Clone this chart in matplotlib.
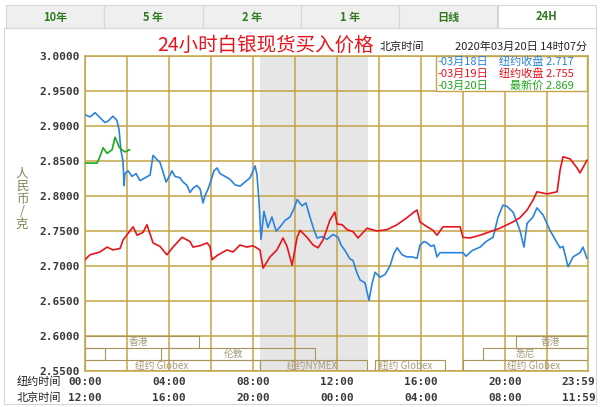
import matplotlib
matplotlib.use("Agg")
import matplotlib.pyplot as plt
from matplotlib.patches import Rectangle
import numpy as np

plt.rcParams['font.family'] = ['Noto Sans CJK SC', 'DejaVu Sans']

###data (hours since 00:00 New York time, price in yuan/gram)
blueHours = [0.00, 0.24, 0.48, 0.71, 0.95, 1.10, 1.33, 1.52, 1.62, 1.71, 1.81, 1.86, 1.90, 2.05, 2.24,
             2.43, 2.62, 2.86, 3.10, 3.24, 3.43, 3.57, 3.71, 3.86, 4.05, 4.14, 4.29, 4.52, 4.67, 4.86,
             5.00, 5.14, 5.33, 5.48, 5.62, 5.71, 5.86, 6.00, 6.14, 6.29, 6.43, 6.67, 6.90, 7.14, 7.38,
             7.62, 7.86, 8.10, 8.19, 8.29, 8.38, 8.52, 8.71, 8.90, 9.10, 9.29, 9.52, 9.76, 9.95, 10.10,
             10.33, 10.52, 10.71, 10.90, 11.05, 11.29, 11.52, 11.81, 12.05, 12.19, 12.38, 12.62, 12.76,
             12.95, 13.10, 13.33, 13.52, 13.67, 13.81, 14.05, 14.29, 14.52, 14.71, 14.86, 15.10, 15.33,
             15.57, 15.81, 15.95, 16.14, 16.29, 16.48, 16.62, 16.76, 16.90, 18.00, 18.14, 18.43, 18.81,
             19.10, 19.43, 19.67, 19.90, 20.10, 20.38, 20.71, 20.90, 21.05, 21.33, 21.52, 21.81, 22.14,
             22.48, 22.62, 22.76, 23.00, 23.24, 23.57, 23.71, 23.90]
blueValues = [2.916, 2.913, 2.919, 2.912, 2.905, 2.907, 2.914, 2.908, 2.895, 2.865, 2.850, 2.815, 2.832,
              2.836, 2.828, 2.832, 2.822, 2.826, 2.830, 2.858, 2.852, 2.848, 2.835, 2.820, 2.830, 2.836,
              2.828, 2.826, 2.820, 2.815, 2.805, 2.811, 2.815, 2.810, 2.790, 2.800, 2.810, 2.822, 2.836,
              2.840, 2.832, 2.828, 2.824, 2.816, 2.814, 2.820, 2.826, 2.843, 2.830, 2.790, 2.738, 2.778,
              2.755, 2.770, 2.750, 2.756, 2.765, 2.770, 2.782, 2.795, 2.786, 2.790, 2.770, 2.752, 2.740,
              2.742, 2.738, 2.745, 2.741, 2.730, 2.722, 2.710, 2.708, 2.690, 2.680, 2.676, 2.651, 2.675,
              2.691, 2.684, 2.688, 2.700, 2.718, 2.726, 2.716, 2.713, 2.713, 2.711, 2.730, 2.735, 2.733,
              2.728, 2.730, 2.713, 2.719, 2.719, 2.714, 2.722, 2.727, 2.735, 2.741, 2.770, 2.787, 2.785,
              2.777, 2.751, 2.727, 2.761, 2.770, 2.783, 2.773, 2.751, 2.733, 2.726, 2.728, 2.699, 2.713,
              2.719, 2.727, 2.711]

redHours = [0.00, 0.24, 0.71, 1.05, 1.33, 1.67, 1.81, 2.29, 2.48, 2.76, 2.95, 3.24, 3.57, 3.90, 4.19,
            4.62, 5.00, 5.14, 5.48, 5.81, 5.95, 6.05, 6.29, 6.76, 7.05, 7.38, 7.71, 8.00, 8.33, 8.48,
            8.81, 9.14, 9.43, 9.62, 9.86, 10.10, 10.24, 10.57, 10.86, 11.10, 11.33, 11.67, 11.90, 12.00,
            12.24, 12.48, 12.76, 13.00, 13.43, 13.90, 14.38, 14.86, 15.33, 15.62, 15.81, 15.95, 16.29,
            16.57, 16.76, 17.05, 17.86, 18.00, 18.33, 18.81, 19.29, 19.76, 20.38, 20.71, 21.05, 21.33,
            21.52, 22.00, 22.48, 22.62, 22.76, 23.10, 23.43, 23.57, 23.90]
redValues = [2.709, 2.716, 2.720, 2.727, 2.723, 2.725, 2.737, 2.756, 2.744, 2.748, 2.759, 2.733, 2.728,
             2.716, 2.727, 2.741, 2.735, 2.727, 2.729, 2.733, 2.728, 2.709, 2.715, 2.723, 2.720, 2.730,
             2.727, 2.729, 2.723, 2.697, 2.713, 2.723, 2.740, 2.728, 2.701, 2.741, 2.751, 2.741, 2.730,
             2.726, 2.737, 2.766, 2.777, 2.760, 2.759, 2.752, 2.749, 2.740, 2.754, 2.750, 2.752, 2.759,
             2.769, 2.776, 2.780, 2.763, 2.756, 2.751, 2.744, 2.756, 2.756, 2.741, 2.740, 2.744, 2.749,
             2.754, 2.763, 2.769, 2.780, 2.794, 2.806, 2.803, 2.806, 2.837, 2.856, 2.853, 2.840, 2.833,
             2.851]

greenHours = [0.00, 0.57, 0.71, 0.86, 1.05, 1.29, 1.43, 1.52, 1.62, 1.76, 1.90, 2.12]
greenValues = [2.847, 2.847, 2.856, 2.869, 2.861, 2.866, 2.884, 2.878, 2.870, 2.866, 2.863, 2.866]

tabNames = ["10年", "5 年", "2 年", "1 年", "日线", "24H"]
nyTimes = ["00:00", "04:00", "08:00", "12:00", "16:00", "20:00", "23:59"]
bjTimes = ["12:00", "16:00", "20:00", "00:00", "04:00", "08:00", "11:59"]
timeHours = [0, 4, 8, 12, 16, 20, 23.5]
legendDates = ["-03月18日", "-03月19日", "-03月20日"]
legendTexts = ["纽约收盘 2.717", "纽约收盘 2.755", "最新价 2.869"]

##trading session boxes: (name, start hour, end hour, row, label hour)
sessions = [("香港", 0.0, 5.43, 0, 2.1),
            ("", 0.0, 0.95, 1, 0),
            ("伦敦", 3.6, 10.95, 1, 6.6),
            ("纽约 Globex", 0.0, 8.33, 2, 2.4),
            ("纽约NYMEX", 8.33, 13.43, 2, 9.6),
            ("纽约 Globex", 13.8, 17.14, 2, 14.0),
            ("纽约 Globex", 18.0, 24.0, 2, 20.1),
            ("悉尼", 18.95, 24.0, 1, 20.5),
            ("香港", 20.5, 24.0, 0, 21.7)]
rowEdges = [(2.5829, 2.600), (2.5657, 2.5829), (2.550, 2.5657)]

blueC = '#2b83e0'
redC = '#e8141c'
greenC = '#1ea81e'
gridC = '#c4a448'

fig = plt.figure(figsize=(6, 4.07), dpi=100)
W, H = 600.0, 407.0

def fx(px):
    return px / W

def fy(py):
    return 1 - py / H

###tab bar
tabW = 98.3
for i, name in enumerate(tabNames):
    x0 = 6 + i * tabW
    fc = '#ffffff' if name == "24H" else '#efefef'
    fig.patches.append(Rectangle((fx(x0), fy(28)), tabW / W, 23 / H, transform=fig.transFigure,
                                 facecolor=fc, edgecolor='#d6d6d6', lw=0.8))
    fig.text(fx(x0 + tabW / 2), fy(17), name, ha='center', va='center', fontsize=8,
             color='#2f7a1e', fontweight='bold')

##outer frame
fig.patches.append(Rectangle((fx(4), fy(404)), 592 / W, 376 / H, transform=fig.transFigure,
                             facecolor='none', edgecolor='#d6d6d6', lw=0.8))

###main axes
ax = fig.add_axes([fx(85), fy(371), 503 / W, 315 / H])
ax.set_xlim(0, 23.95)
ax.set_ylim(2.55, 3.0)

ax.axvspan(8.33, 13.48, color='#e6e6e6', zorder=0, lw=0)

ax.set_xticks(np.arange(0, 24, 2))
ax.set_yticks(np.arange(2.55, 3.001, 0.05))
ax.grid(True, color=gridC, lw=1.1, zorder=1)
ax.tick_params(length=0, labelbottom=False)
ax.set_yticklabels(["%.4f" % v for v in np.arange(2.55, 3.001, 0.05)],
                   fontfamily='DejaVu Sans Mono', fontweight='bold', fontsize=8, color='#3a3a3a')
ax.tick_params(axis='y', pad=4)
for s in ax.spines.values():
    s.set_color(gridC)
    s.set_linewidth(1.1)

##session boxes
for name, h0, h1, row, lh in sessions:
    lo, hi = rowEdges[row]
    ax.add_patch(Rectangle((h0, lo), h1 - h0, hi - lo, facecolor='none', edgecolor='#a8945c',
                           lw=0.8, zorder=2))
    if name:
        ax.text(lh, (lo + hi) / 2, name, fontsize=7, color='#a59a7c', va='center', ha='left', zorder=3)

##price lines
ax.plot(blueHours, blueValues, color=blueC, lw=1.2, zorder=4)
ax.plot(redHours, redValues, color=redC, lw=1.2, zorder=4)
ax.plot(greenHours, greenValues, color=greenC, lw=1.2, zorder=5)

##legend box
fig.patches.append(Rectangle((fx(436), fy(91)), 151 / W, 35 / H, transform=fig.transFigure,
                             facecolor='white', edgecolor=gridC, lw=1.0, zorder=10))
for i, c in enumerate([blueC, redC, greenC]):
    yy = fy(62 + i * 11.8)
    fig.text(fx(437), yy, legendDates[i], color=c, fontsize=8, va='center', ha='left', zorder=11)
    fig.text(fx(574), yy, legendTexts[i], color=c, fontsize=8, va='center', ha='right', zorder=11)

###title and header
fig.text(fx(266), fy(45), "24小时白银现货买入价格", color=redC, fontsize=14, ha='center', va='center')
fig.text(fx(380), fy(47), "北京时间", color='#222222', fontsize=8, ha='left', va='center')
fig.text(fx(587), fy(47), "2020年03月20日 14时07分", color='#222222', fontsize=8, ha='right', va='center')

##y label
fig.text(fx(22), fy(199), "人\n民\n币\n/\n克", color='#85835a', fontsize=9, ha='center', va='center',
         linespacing=0.95)

###bottom time labels
fig.text(fx(17), fy(382), "纽约时间", fontsize=8, color='#222222', ha='left', va='center')
fig.text(fx(17), fy(398), "北京时间", fontsize=8, color='#222222', ha='left', va='center')
for h, t1, t2 in zip(timeHours, nyTimes, bjTimes):
    xp = fx(85 + h * 21)
    fig.text(xp, fy(382), t1, fontsize=8, fontfamily='DejaVu Sans Mono', fontweight='bold',
             color='#3a3a3a', ha='center', va='center')
    fig.text(xp, fy(398), t2, fontsize=8, fontfamily='DejaVu Sans Mono', fontweight='bold',
             color='#3a3a3a', ha='center', va='center')

fig.savefig("out.png", dpi=100)
